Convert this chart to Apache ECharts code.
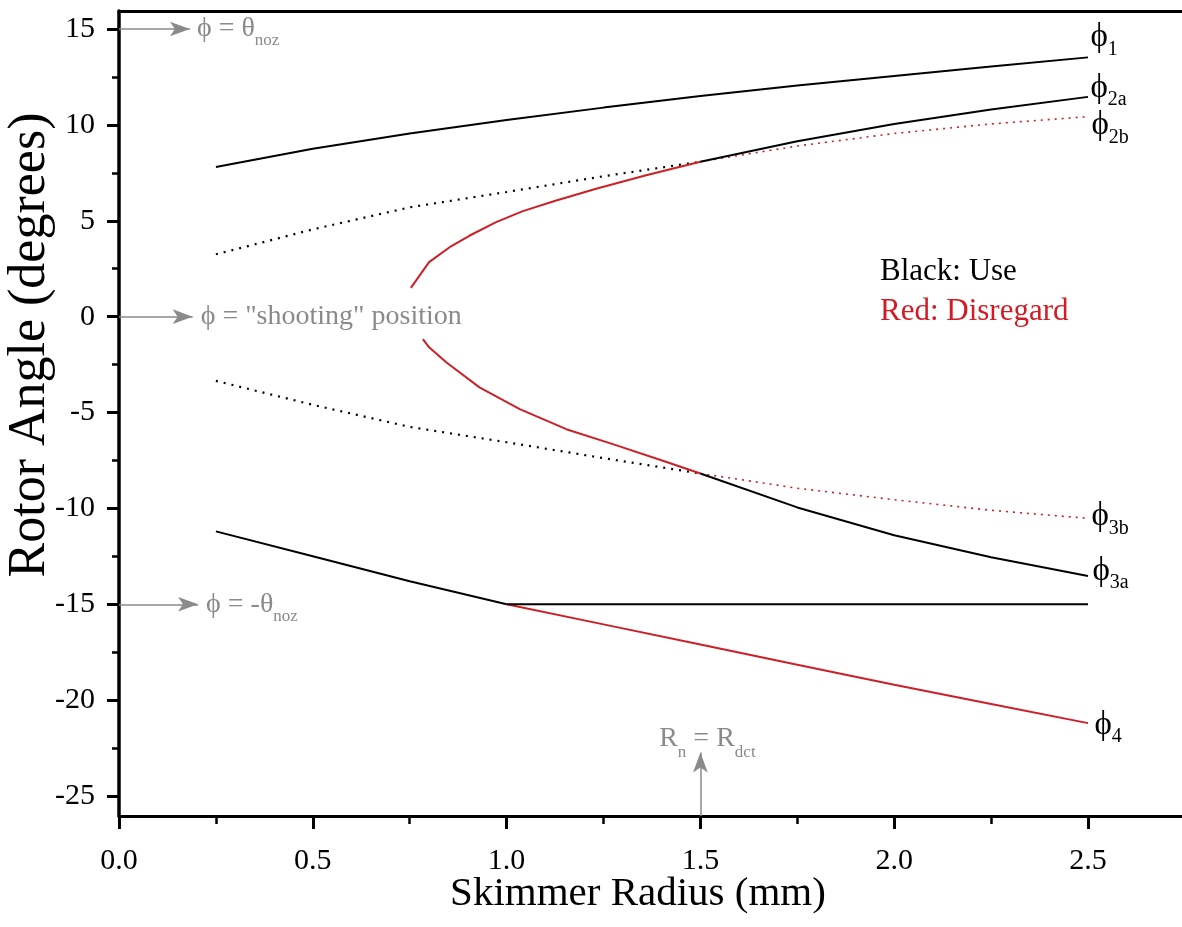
<!DOCTYPE html>
<html>
<head>
<meta charset="utf-8">
<script src="https://cdn.jsdelivr.net/npm/echarts@6/dist/echarts.min.js"></script>
<style>
  html, body { margin: 0; padding: 0; background: #fff; }
  #chart { width: 1182px; height: 927px; }
</style>
</head>
<body>
<div id="chart"></div>
<script>
// Rotor angle solutions versus skimmer radius
const radius = [0.25, 0.5, 0.75, 1.0, 1.25, 1.5, 1.75, 2.0, 2.25, 2.5];
const phi1 = [7.8, 8.75, 9.55, 10.25, 10.9, 11.5, 12.05, 12.55, 13.05, 13.52];

const radiusLow = [0.25, 0.5, 0.75, 1.0, 1.25, 1.5];
const radiusHigh = [1.5, 1.75, 2.0, 2.25, 2.5];

const phi2bUse = [3.25, 4.55, 5.7, 6.5, 7.32, 8.08];
const phi2bDisregard = [8.08, 8.9, 9.55, 10.05, 10.43];
const radiusBranch2 = [0.753, 0.8, 0.853, 0.905, 0.973, 1.042, 1.128, 1.231, 1.36, 1.5];
const phi2aDisregard = [1.5, 2.84, 3.62, 4.23, 4.93, 5.5, 6.06, 6.67, 7.37, 8.08];
const phi2aUse = [8.08, 9.15, 10.05, 10.8, 11.46];

const phi3bUse = [-3.35, -4.6, -5.75, -6.55, -7.38, -8.18];
const phi3bDisregard = [-8.18, -8.95, -9.55, -10.1, -10.52];
const radiusBranch3 = [0.784, 0.8, 0.845, 0.93, 1.034, 1.154, 1.274, 1.403, 1.5];
const phi3aDisregard = [-1.17, -1.6, -2.39, -3.69, -4.82, -5.87, -6.65, -7.52, -8.18];
const phi3aUse = [-8.18, -9.95, -11.4, -12.55, -13.53];

const radiusPhi4Use = [0.25, 0.5, 0.75, 1.0];
const phi4Use = [-11.2, -12.5, -13.8, -15.0];
const radiusPhi4Disregard = [1.0, 1.25, 1.5, 1.75, 2.0, 2.25, 2.5];
const phi4Disregard = [-15.0, -16.05, -17.1, -18.15, -19.2, -20.2, -21.2];
const radiusLimit = [1.0, 2.5];
const phiLimit = [-15, -15];

// reference levels marked with arrows
const thetaNoz = 15;
const shootingPos = 0;
const radiusDet = 1.5;

const xTicks = { min: 0, max: 2.5, step: 0.5 };
const yTicks = { min: -25, max: 15, step: 5 };

// plot geometry: the tick grid spans the labelled range, the frame extends past it
const plot = { left: 119, right: 1088, top: 29, bottom: 796 };
const frame = { left: 119, right: 1182, top: 11, bottom: 816 };
const W = 1182, H = 927;

const xPerPx = (xTicks.max - xTicks.min) / (plot.right - plot.left);
const yPerPx = (yTicks.max - yTicks.min) / (plot.bottom - plot.top);
const frameX = { min: xTicks.min, max: xTicks.min + (frame.right - frame.left) * xPerPx };
const frameY = {
  min: yTicks.min - (frame.bottom - plot.bottom) * yPerPx,
  max: yTicks.max + (plot.top - frame.top) * yPerPx
};

const serif = "'Liberation Serif', 'DejaVu Serif', serif";
const BLACK = '#000000';
const RED = '#cc2026';
const GRAY = '#8a8a8a';

function pairs(xs, ys) { return xs.map((x, i) => [x, ys[i]]); }

function subRich(main, sub, shift, color) {
  return {
    m: { fontFamily: serif, fontSize: main, lineHeight: main, color: color, verticalAlign: 'middle' },
    s: { fontFamily: serif, fontSize: sub, lineHeight: sub, color: color, verticalAlign: 'middle', padding: [shift * 2, 0, 0, 0] }
  };
}

function endTag(xs, ys, text, dx, dy) {
  const n = xs.length - 1;
  return {
    symbol: 'circle', symbolSize: 1, silent: true, animation: false,
    itemStyle: { color: 'rgba(0,0,0,0)' },
    label: {
      show: true, position: 'right', distance: dx, offset: [0, dy],
      formatter: text, rich: subRich(33, 20, 12, BLACK)
    },
    data: [{ coord: [xs[n], ys[n]] }]
  };
}

function curve(name, xs, ys, color, dotted, tag) {
  const s = {
    name: name, type: 'line', xAxisIndex: 0, yAxisIndex: 0,
    data: pairs(xs, ys), showSymbol: false, symbol: 'none', silent: true,
    animation: false, clip: false,
    lineStyle: dotted
      ? { color: color, width: color === RED ? 1.6 : 2.2, type: color === RED ? [2, 5] : [2, 6], cap: 'butt' }
      : { color: color, width: 2 }
  };
  if (tag) s.markPoint = tag;
  return s;
}

function arrowLine(from, to, text, distance, rich, offset) {
  return [
    { coord: from, symbol: 'none' },
    {
      coord: to, symbol: 'arrow', symbolSize: [11, 20],
      label: { show: true, position: 'end', distance: distance, offset: offset || [0, 0], formatter: text, rich: rich }
    }
  ];
}

const grayRich = subRich(28, 17, 12, GRAY);

const series = [
  curve('ϕ1', radius, phi1, BLACK, false, endTag(radius, phi1, '{m|ϕ}{s|1}', 2, -20)),
  curve('ϕ2b use', radiusLow, phi2bUse, BLACK, true),
  curve('ϕ2b disregard', radiusHigh, phi2bDisregard, RED, true, endTag(radiusHigh, phi2bDisregard, '{m|ϕ}{s|2b}', 3, 9)),
  curve('ϕ2a disregard', radiusBranch2, phi2aDisregard, RED, false),
  curve('ϕ2a use', radiusHigh, phi2aUse, BLACK, false, endTag(radiusHigh, phi2aUse, '{m|ϕ}{s|2a}', 2, -9)),
  curve('ϕ3b use', radiusLow, phi3bUse, BLACK, true),
  curve('ϕ3b disregard', radiusHigh, phi3bDisregard, RED, true, endTag(radiusHigh, phi3bDisregard, '{m|ϕ}{s|3b}', 3, -2)),
  curve('ϕ3a disregard', radiusBranch3, phi3aDisregard, RED, false),
  curve('ϕ3a use', radiusHigh, phi3aUse, BLACK, false, endTag(radiusHigh, phi3aUse, '{m|ϕ}{s|3a}', 4, -5)),
  curve('ϕ4 use', radiusPhi4Use, phi4Use, BLACK, false),
  curve('ϕ4 disregard', radiusPhi4Disregard, phi4Disregard, RED, false, endTag(radiusPhi4Disregard, phi4Disregard, '{m|ϕ}{s|4}', 6, 2)),
  curve('limit', radiusLimit, phiLimit, BLACK, false),
  {
    name: 'markers', type: 'line', xAxisIndex: 1, yAxisIndex: 1, data: [],
    silent: true, animation: false, clip: false,
    markLine: {
      silent: true, animation: false, symbol: ['none', 'arrow'],
      lineStyle: { color: GRAY, width: 1.5, type: 'solid' },
      label: { show: false },
      data: [
        arrowLine([0, thetaNoz], [0.183, thetaNoz], '{m|ϕ = θ}{s|noz}', 7, grayRich),
        arrowLine([0, shootingPos], [0.19, shootingPos], '{m|ϕ = "shooting" position}', 8, grayRich),
        arrowLine([0, -thetaNoz], [0.204, -thetaNoz], '{m|ϕ = -θ}{s|noz}', 8, grayRich),
        arrowLine([radiusDet, frameY.min], [radiusDet, -22.73], '{m|R}{s|n}{m| = R}{s|dct}', 0, subRich(28, 17, 14, GRAY), [7, 0])
      ]
    }
  }
];

const hiddenAxis = {
  axisTick: { show: false }, axisLabel: { show: false }, splitLine: { show: false }
};

const chart = echarts.init(document.getElementById('chart'), null, { renderer: 'canvas' });
chart.setOption({
  backgroundColor: '#ffffff',
  animation: false,
  grid: [
    { left: plot.left, right: W - plot.right, top: plot.top, bottom: H - plot.bottom, containLabel: false },
    { left: frame.left, right: W - frame.right, top: frame.top, bottom: H - frame.bottom, containLabel: false }
  ],
  xAxis: [
    {
      type: 'value', gridIndex: 0, position: 'bottom', offset: frame.bottom - plot.bottom,
      min: xTicks.min, max: xTicks.max, interval: xTicks.step,
      axisLine: { show: false, onZero: false },
      axisTick: { show: true, inside: false, length: 13, lineStyle: { color: BLACK, width: 3 } },
      minorTick: { show: true, splitNumber: 2, length: 8, lineStyle: { color: BLACK, width: 2.5 } },
      splitLine: { show: false },
      axisLabel: { show: true, margin: 30, color: BLACK, fontFamily: serif, fontSize: 30,
        formatter: v => v.toFixed(1) }
    },
    Object.assign({
      type: 'value', gridIndex: 1, position: 'bottom', min: frameX.min, max: frameX.max,
      axisLine: { show: true, onZero: false, lineStyle: { color: BLACK, width: 3 } }
    }, hiddenAxis),
    Object.assign({
      type: 'value', gridIndex: 1, position: 'top', min: frameX.min, max: frameX.max,
      axisLine: { show: true, onZero: false, lineStyle: { color: BLACK, width: 3 } }
    }, hiddenAxis)
  ],
  yAxis: [
    {
      type: 'value', gridIndex: 0, position: 'left',
      min: yTicks.min, max: yTicks.max, interval: yTicks.step,
      axisLine: { show: false, onZero: false },
      axisTick: { show: true, inside: false, length: 12, lineStyle: { color: BLACK, width: 3 } },
      minorTick: { show: true, splitNumber: 2, length: 7, lineStyle: { color: BLACK, width: 2.5 } },
      splitLine: { show: false },
      axisLabel: { show: true, margin: 24, color: BLACK, fontFamily: serif, fontSize: 30 }
    },
    Object.assign({
      type: 'value', gridIndex: 1, position: 'left', min: frameY.min, max: frameY.max,
      axisLine: { show: true, onZero: false, lineStyle: { color: BLACK, width: 3.5 } }
    }, hiddenAxis)
  ],
  graphic: [
    {
      type: 'text', x: 30, y: 345, rotation: Math.PI / 2, silent: true,
      style: { text: 'Rotor Angle (degrees)', fill: BLACK, font: '52px ' + serif,
        textAlign: 'center', textVerticalAlign: 'middle' }
    },
    {
      type: 'text', x: 638, y: 894, silent: true,
      style: { text: 'Skimmer Radius (mm)', fill: BLACK, font: '41px ' + serif,
        textAlign: 'center', textVerticalAlign: 'middle' }
    },
    {
      type: 'text', x: 880, y: 272, silent: true,
      style: { text: 'Black: Use', fill: BLACK, font: '31px ' + serif,
        textAlign: 'left', textVerticalAlign: 'middle' }
    },
    {
      type: 'text', x: 880, y: 312, silent: true,
      style: { text: 'Red: Disregard', fill: '#d01c24', font: '31px ' + serif,
        textAlign: 'left', textVerticalAlign: 'middle' }
    }
  ],
  series: series
});
</script>
</body>
</html>
